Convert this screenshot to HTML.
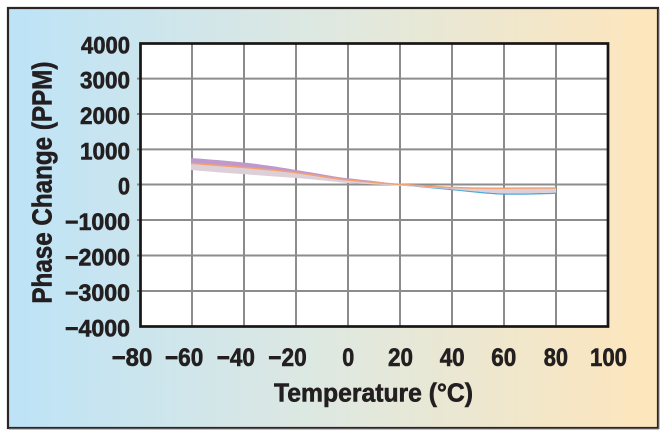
<!DOCTYPE html>
<html>
<head>
<meta charset="utf-8">
<style>
  html, body { margin: 0; padding: 0; background: #ffffff; }
  svg { display: block; }
  text { font-family: "Liberation Sans", "DejaVu Sans", sans-serif; font-weight: bold; fill: #231f20; stroke: #231f20; stroke-width: 0.6; }
</style>
</head>
<body>
<svg width="666" height="437" viewBox="0 0 666 437" xmlns="http://www.w3.org/2000/svg">
  <defs>
    <linearGradient id="bg" x1="0" y1="0" x2="1" y2="0">
      <stop offset="0" stop-color="#bde3f7"/>
      <stop offset="0.5" stop-color="#dfe8e0"/>
      <stop offset="1" stop-color="#fee6bb"/>
    </linearGradient>
  </defs>
  <rect x="0" y="0" width="666" height="437" fill="#ffffff"/>
  <!-- outer frame -->
  <rect x="8" y="8" width="650" height="420" fill="url(#bg)" stroke="#2b2526" stroke-width="2.2"/>
  <line x1="9" y1="429" x2="659" y2="429" stroke="#8a8585" stroke-width="1"/>
  <line x1="659" y1="9" x2="659" y2="429" stroke="#8a8585" stroke-width="1"/>

  <!-- plot area -->
  <rect x="140.5" y="43.5" width="467.5" height="283" fill="#ffffff"/>

  <!-- gridlines -->
  <g stroke="#8c8c8c" stroke-width="2">
    <line x1="192" y1="43.5" x2="192" y2="326.5"/>
    <line x1="244" y1="43.5" x2="244" y2="326.5"/>
    <line x1="296" y1="43.5" x2="296" y2="326.5"/>
    <line x1="348" y1="43.5" x2="348" y2="326.5"/>
    <line x1="400" y1="43.5" x2="400" y2="326.5"/>
    <line x1="452" y1="43.5" x2="452" y2="326.5"/>
    <line x1="504" y1="43.5" x2="504" y2="326.5"/>
    <line x1="556" y1="43.5" x2="556" y2="326.5"/>

    <line x1="137" y1="78.6" x2="608" y2="78.6"/>
    <line x1="137" y1="114.0" x2="608" y2="114.0"/>
    <line x1="137" y1="149.4" x2="608" y2="149.4"/>
    <line x1="137" y1="184.5" x2="608" y2="184.5"/>
    <line x1="137" y1="220.0" x2="608" y2="220.0"/>
    <line x1="137" y1="255.5" x2="608" y2="255.5"/>
    <line x1="137" y1="291.0" x2="608" y2="291.0"/>
  </g>

  <!-- data series -->
  <path d="M191,163 C217,165 270,169 296,172 C322,175 330,178 348,179.5 C374,182 390,184 400,184.8 C426,187 440,188.5 452,189.6 C478,192 490,193.8 504,194 C530,194.2 545,193.5 556,193.2"
        fill="none" stroke="#4aa6dc" stroke-width="1.4"/>
  <path d="M191,163.5 C217,166 270,169.5 296,172.5 C322,176 335,179 348,180.2 C374,182.5 390,184 400,184.4 C426,186 440,187 452,187.6 C478,188.5 490,188.6 504,188.4 C530,188.2 545,188 556,187.8
           L556,192.6 C545,192.8 530,193.2 504,193.4 C490,193.2 478,191.5 452,189.4 C440,188.5 426,187.2 400,185.8 C390,185.2 374,184.5 348,183 C335,182 322,180 296,178 C270,176 217,172.5 191,170 Z"
        fill="#dccfd8"/>
  <path d="M191,158 C217,160 243,162 260,164.5 C280,167 290,169 296,170 C322,174 335,177 348,178.3 C374,181 390,183.2 400,184 C426,185.8 440,187 452,187.8 L452,188.6 C440,187.8 426,186.6 400,185 C390,184.5 374,183 348,180.5 C335,179.5 322,177 296,173 C270,169.5 217,166 191,163.8 Z"
        fill="#bf99cb"/>
  <path d="M191,163.3 C217,165.5 270,169 296,172.6 C322,176 335,179 348,180 C374,182.5 390,184 400,184.3 C426,186 440,187 452,187.5 C478,188.2 490,188.3 504,188.2 C530,188 545,188 556,188"
        fill="none" stroke="#f2a271" stroke-width="1.5"/>

  <!-- plot border -->
  <rect x="140.5" y="43.5" width="467.5" height="283" fill="none" stroke="#1a1414" stroke-width="2.7"/>

  <!-- y tick labels -->
  <g font-size="24">
    <text x="81" y="53.5" textLength="49" lengthAdjust="spacingAndGlyphs">4000</text>
    <text x="80" y="88.5" textLength="50" lengthAdjust="spacingAndGlyphs">3000</text>
    <text x="80" y="124" textLength="50" lengthAdjust="spacingAndGlyphs">2000</text>
    <text x="80" y="159.5" textLength="50" lengthAdjust="spacingAndGlyphs">1000</text>
    <text x="118" y="194.5" textLength="12" lengthAdjust="spacingAndGlyphs">0</text>
    <text x="65" y="230" textLength="65" lengthAdjust="spacingAndGlyphs">−1000</text>
    <text x="65" y="265.5" textLength="65" lengthAdjust="spacingAndGlyphs">−2000</text>
    <text x="65" y="301" textLength="65" lengthAdjust="spacingAndGlyphs">−3000</text>
    <text x="65" y="336.5" textLength="65" lengthAdjust="spacingAndGlyphs">−4000</text>
  </g>

  <!-- x tick labels -->
  <g font-size="25">
    <text x="111.7" y="366" textLength="40.6" lengthAdjust="spacingAndGlyphs">−80</text>
    <text x="165" y="366" textLength="38.3" lengthAdjust="spacingAndGlyphs">−60</text>
    <text x="216.7" y="366" textLength="38.3" lengthAdjust="spacingAndGlyphs">−40</text>
    <text x="268.3" y="366" textLength="38.4" lengthAdjust="spacingAndGlyphs">−20</text>
    <text x="342.3" y="366" textLength="12" lengthAdjust="spacingAndGlyphs">0</text>
    <text x="388" y="366" textLength="25" lengthAdjust="spacingAndGlyphs">20</text>
    <text x="439.7" y="366" textLength="25" lengthAdjust="spacingAndGlyphs">40</text>
    <text x="491.3" y="366" textLength="25" lengthAdjust="spacingAndGlyphs">60</text>
    <text x="543.7" y="366" textLength="24.3" lengthAdjust="spacingAndGlyphs">80</text>
    <text x="590" y="366" textLength="37" lengthAdjust="spacingAndGlyphs">100</text>
  </g>

  <!-- axis titles -->
  <text x="274" y="401.7" font-size="26" textLength="199" lengthAdjust="spacingAndGlyphs">Temperature (°C)</text>
  <text transform="translate(51.5,182.6) rotate(-90)" x="0" y="0" font-size="28" text-anchor="middle" textLength="242" lengthAdjust="spacingAndGlyphs">Phase Change (PPM)</text>
</svg>
</body>
</html>
